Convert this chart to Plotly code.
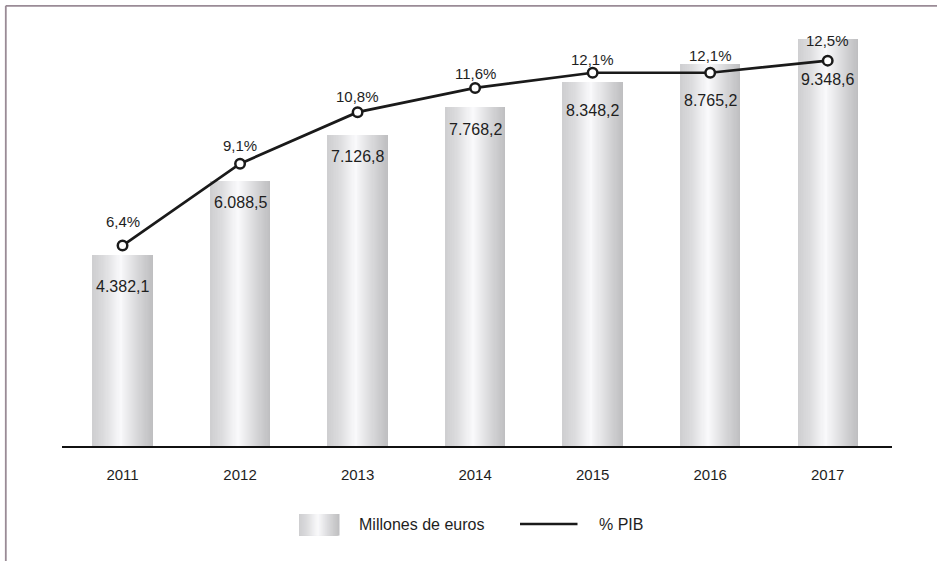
import numpy as np
import plotly.graph_objects as go

# ---- data ----
years = ["2011", "2012", "2013", "2014", "2015", "2016", "2017"]
millones = [4382.1, 6088.5, 7126.8, 7768.2, 8348.2, 8765.2, 9348.6]
pct_pib = [6.4, 9.1, 10.8, 11.6, 12.1, 12.1, 12.5]
series_names = ["Millones de euros", "% PIB"]

# ---- style / layout helpers ----
W_PX, H_PX = 937, 561
L, R, T, B = 62, 45, 20, 115
PW, PH = W_PX - L - R, H_PX - T - B
FONT = "Liberation Sans, Arial, Helvetica, sans-serif"
TXT = "#1e1e1e"
BAR_W = 0.514
val_label_offset = [31, 22, 21, 22.5, 28, 36, 41]
pct_label_offset = [24, 18, 15.5, 14, 13.5, 17.7, 20]


def px(x):
    return (x - L) / PW


def py(y):
    return (H_PX - B - y) / PH


def fmt_es(v, dec=1):
    s = f"{v:,.{dec}f}"
    return s.replace(",", "X").replace(".", ",").replace("X", ".")


# gradient profile across the bar (t in 0..1 -> grey level)
left_t, left_v = [0.0, 0.2, 0.38, 0.47], [206, 220, 241, 249]
right_t, right_v = [1.0, 0.78, 0.58, 0.47], [190, 212, 236, 249]
levels = np.arange(190, 250, 2)
layers = []
for v in levels:
    tl = float(np.interp(v, left_v, left_t))
    tr = float(np.interp(v, right_v, right_t))
    if tr - tl < 0.004:
        continue
    g = int(min(255, v + 1))
    layers.append((tl, tr, f"rgb({g},{g},{min(255, g + 2)})"))

fig = go.Figure()

n = len(years)
for tl, tr, col in layers:
    fig.add_trace(go.Bar(
        x=years, y=millones,
        width=[BAR_W * (tr - tl)] * n,
        offset=[-BAR_W / 2 + BAR_W * tl] * n,
        marker=dict(color=col, line=dict(width=0)),
        showlegend=False, hoverinfo="skip", name=series_names[0],
    ))

fig.add_trace(go.Scatter(
    x=years, y=pct_pib, yaxis="y2", mode="lines+markers",
    line=dict(color="#1a1a1a", width=2.7),
    marker=dict(symbol="circle", size=9.5, color="white",
                line=dict(color="#1a1a1a", width=2.5)),
    showlegend=False, name=series_names[1], cliponaxis=False,
))

annotations = []
for i, yr in enumerate(years):
    annotations.append(dict(
        x=i, y=millones[i], xref="x", yref="y", text=fmt_es(millones[i]),
        showarrow=False, yanchor="middle", yshift=-val_label_offset[i],
        font=dict(family=FONT, size=16, color=TXT)))
    annotations.append(dict(
        x=i, y=pct_pib[i], xref="x", yref="y2", text=fmt_es(pct_pib[i]) + "%",
        showarrow=False, yanchor="middle", yshift=pct_label_offset[i],
        font=dict(family=FONT, size=15, color=TXT)))

# legend (custom)
annotations.append(dict(x=px(356.5), y=py(524), xref="paper", yref="paper",
                        text=series_names[0], showarrow=False, xanchor="left",
                        yanchor="middle", font=dict(family=FONT, size=16, color=TXT)))
annotations.append(dict(x=px(596.5), y=py(524), xref="paper", yref="paper",
                        text=series_names[1], showarrow=False, xanchor="left",
                        yanchor="middle", font=dict(family=FONT, size=16, color=TXT)))

shapes = []
sx0, sx1, sy0, sy1 = 299, 339.5, 514, 535.5
for tl, tr, col in layers:
    shapes.append(dict(type="rect", xref="paper", yref="paper",
                       x0=px(sx0 + (sx1 - sx0) * tl), x1=px(sx0 + (sx1 - sx0) * tr),
                       y0=py(sy1), y1=py(sy0), line=dict(width=0), fillcolor=col))
shapes.append(dict(type="line", xref="paper", yref="paper",
                   x0=px(520), x1=px(577.5), y0=py(524), y1=py(524),
                   line=dict(color="#1a1a1a", width=2.7)))
# frame
frame_col = "#9a8b96"
shapes.append(dict(type="line", xref="paper", yref="paper",
                   x0=px(5.8), x1=px(940), y0=py(5.8), y1=py(5.8),
                   line=dict(color=frame_col, width=1.8)))
shapes.append(dict(type="line", xref="paper", yref="paper",
                   x0=px(5.8), x1=px(5.8), y0=py(5.8), y1=py(566),
                   line=dict(color=frame_col, width=1.8)))

fig.update_layout(
    width=W_PX, height=H_PX,
    margin=dict(l=L, r=R, t=T, b=B, pad=0),
    paper_bgcolor="white", plot_bgcolor="white",
    barmode="overlay", bargap=0,
    showlegend=False,
    font=dict(family=FONT, color=TXT),
    xaxis=dict(type="category", range=[-0.515, 6.547], showline=True,
               linecolor="#111111", linewidth=1.6, ticks="", showgrid=False,
               zeroline=False, tickfont=dict(family=FONT, size=15, color=TXT),
               ticklabelstandoff=14, fixedrange=True),
    yaxis=dict(range=[0, PH / 0.04358], visible=False, showgrid=False,
               zeroline=False, fixedrange=True),
    yaxis2=dict(range=[-6.5 / 30.31, (439.5 - T) / 30.31], overlaying="y",
                visible=False, showgrid=False, zeroline=False, fixedrange=True),
    annotations=annotations,
    shapes=shapes,
)

fig.write_html("out.html", config={"displayModeBar": False},
               post_script="document.body.style.margin='0';document.body.style.overflow='hidden';")
